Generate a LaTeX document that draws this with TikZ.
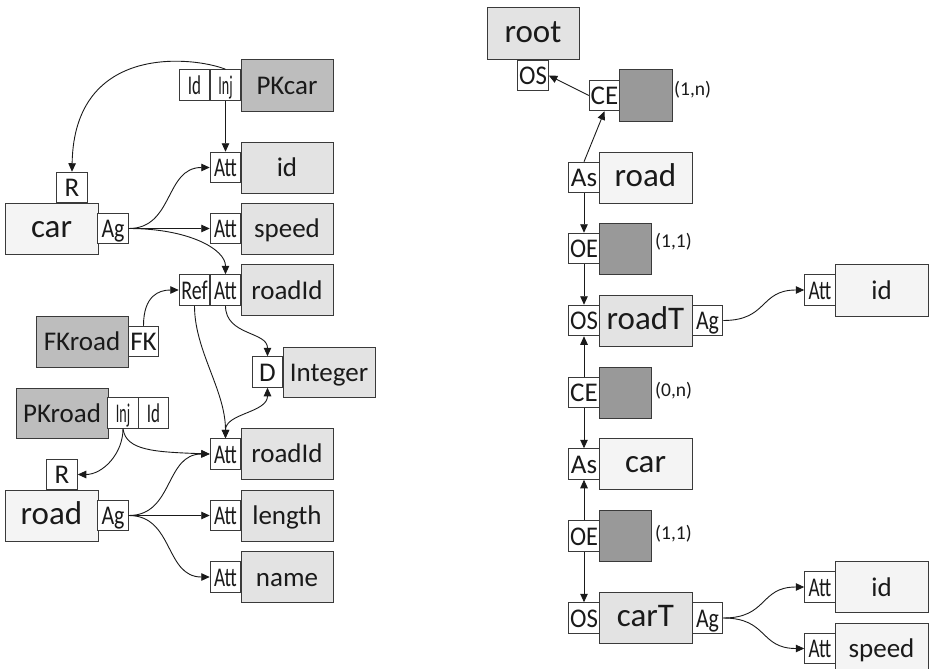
\documentclass[tikz,border=0pt]{standalone}
\usepackage{fontspec}
\setmainfont{Carlito}
\usepackage{graphicx}
\usetikzlibrary{arrows.meta}

\definecolor{edgegray}{HTML}{3A3A3A}
\definecolor{keyfill}{HTML}{BDBDBD}
\definecolor{attfill}{HTML}{E3E3E3}
\definecolor{entfill}{HTML}{F4F4F4}
\definecolor{cardfill}{HTML}{999999}
\definecolor{inkcol}{HTML}{1A1A1A}

% squeeze a label horizontally so it fits its small box
\newcommand\sqz[2]{\scalebox{#1}[1]{#2}}

\tikzset{
  base/.style={draw=edgegray, line width=1pt, inner sep=0pt, text=inkcol},
  tag/.style={base, fill=white, minimum width=30.5pt, minimum height=30.5pt,
              font=\fontsize{27}{29}\selectfont, text height=18pt, text depth=0pt},
  ent/.style={base, fill=entfill, minimum width=93pt, minimum height=51pt,
              font=\fontsize{33}{35}\selectfont, text height=24.5pt, text depth=7.5pt},
  att/.style={base, fill=attfill, minimum width=92pt, minimum height=51pt,
              font=\fontsize{27}{29}\selectfont, text height=24pt, text depth=6pt},
  key/.style={att, fill=keyfill},
  card/.style={base, fill=cardfill, minimum width=52.5pt, minimum height=51pt},
  cardlbl/.style={anchor=west, inner sep=0pt, text=inkcol,
                  font=\fontsize{19.5}{21}\selectfont},
  arr/.style={-{Triangle[length=8.5pt,width=7.5pt]}, line width=0.9pt, draw=inkcol},
  biarr/.style={{Triangle[length=8.5pt,width=7.5pt]}-{Triangle[length=8.5pt,width=7.5pt]},
                line width=0.9pt, draw=inkcol}
}

\begin{document}
\begin{tikzpicture}[x=1pt, y=-1pt]
\useasboundingbox (0,0) rectangle (929,669);

% ---------- relational schema (left) ----------
\node[key] (pkcar) at (287,85.5) {PKcar};
\node[tag] (inj1) at (225.5,85) {\sqz{0.52}{Inj}};
\node[tag] (id1) at (194.5,85) {\sqz{0.63}{Id}};

\node[att] (idA) at (287,167.5) {id};
\node[tag] (attId) at (225.5,167.5) {\sqz{0.71}{Att}};
\node[att] (speedA) at (287,228.5) {speed};
\node[tag] (attSpeed) at (225.5,228.5) {\sqz{0.71}{Att}};
\node[att] (roadIdA) at (287,290) {roadId};
\node[tag] (attRoadId) at (225.5,290) {\sqz{0.71}{Att}};
\node[tag] (ref) at (194.5,290) {\sqz{0.74}{Ref}};

\node[ent] (car) at (51.5,228.5) {car};
\node[tag] (agCar) at (113,228.5) {\sqz{0.81}{Ag}};
\node[tag] (rCar) at (72,187.5) {R};

\node[key] (fkroad) at (82,341.5) {FKroad};
\node[tag] (fk) at (143.5,341.5) {FK};

\node[att, minimum height=50pt] (integer) at (329,372) {Integer};
\node[tag] (dom) at (267.5,372) {D};

\node[key, minimum height=50pt] (pkroad) at (62,413) {PKroad};
\node[tag] (inj2) at (123,413) {\sqz{0.52}{Inj}};
\node[tag] (id2) at (153.5,413) {\sqz{0.63}{Id}};

\node[tag] (rRoad) at (62,474.5) {R};
\node[ent] (road) at (51.5,515.5) {road};
\node[tag] (agRoad) at (113,515.5) {\sqz{0.81}{Ag}};

\node[att] (roadIdB) at (287,453.5) {roadId};
\node[tag] (attRoadIdB) at (225.5,454) {\sqz{0.71}{Att}};
\node[att] (lengthA) at (287,515.5) {length};
\node[tag] (attLength) at (225.5,515.5) {\sqz{0.71}{Att}};
\node[att] (nameA) at (287,577) {name};
\node[tag] (attName) at (225.5,577) {\sqz{0.71}{Att}};

% ---------- document schema (right) ----------
\node[ent, fill=attfill, minimum width=92pt, minimum height=52pt] (root) at (533,34) {root};
\node[tag] (osRoot) at (533,75.5) {\sqz{0.92}{OS}};

\node[tag] (ce1) at (604.5,95.5) {CE};
\node[card] (c1) at (646,95.5) {};
\node[cardlbl] at (674,90) {(1,n)};

\node[ent] (roadR) at (645.5,177.5) {road};
\node[tag] (as1) at (584,177.5) {As};

\node[tag] (oe1) at (584,248.5) {\sqz{0.9}{OE}};
\node[card] (c2) at (625.5,248.5) {};
\node[cardlbl] at (655,242) {(1,1)};

\node[ent, fill=attfill] (roadT) at (645.5,320.5) {roadT};
\node[tag] (os2) at (584,320.5) {\sqz{0.92}{OS}};
\node[tag] (agRT) at (707.5,320.5) {\sqz{0.81}{Ag}};

\node[att, fill=entfill, minimum width=93pt, minimum height=52pt] (idR1) at (881.5,290) {id};
\node[tag] (attR1) at (820,290) {\sqz{0.71}{Att}};

\node[tag] (ce2) at (584,392.5) {CE};
\node[card] (c3) at (625.5,392.5) {};
\node[cardlbl] at (655,391) {(0,n)};

\node[ent] (carR) at (645.5,464) {car};
\node[tag] (as2) at (584,464) {As};

\node[tag] (oe2) at (584,536) {\sqz{0.9}{OE}};
\node[card] (c4) at (625.5,536) {};
\node[cardlbl] at (655,534) {(1,1)};

\node[ent, fill=attfill] (carT) at (645.5,618) {carT};
\node[tag] (os3) at (584,618) {\sqz{0.92}{OS}};
\node[tag] (agCT) at (707.5,618) {\sqz{0.81}{Ag}};

\node[att, fill=entfill, minimum width=93pt] (idR2) at (881.5,587) {id};
\node[tag] (attR2) at (820,587) {\sqz{0.71}{Att}};
\node[att, fill=entfill, minimum width=93pt] (speedR) at (881.5,648.5) {speed};
\node[tag] (attR3) at (820,648.5) {\sqz{0.71}{Att}};

% ---------- connectors, left ----------
\draw[arr] (inj1.north) .. controls (195,57) and (74,42) .. (rCar.north);
\draw[arr] (inj1.south) -- (attId.north);
\draw[arr] (agCar.east) .. controls +(45,0) and +(-45,0) .. (attId.west);
\draw[arr] (agCar.east) -- (attSpeed.west);
\draw[arr] (agCar.east) .. controls +(60,0) and +(0,-25) .. (attRoadId.north);
\draw[arr] (fk.north) .. controls +(0,-30) and +(-20,0) .. (ref.west);
\draw[arr] (ref.south) .. controls +(0,45) and +(0,-48) .. (attRoadIdB.north);
\draw[arr] (attRoadId.south) .. controls +(0,30) and +(0,-25) .. (dom.north);
\draw[biarr] (attRoadIdB.north) .. controls +(0,-25) and +(0,25) .. (dom.south);
\draw[arr] (inj2.south) .. controls +(0,25) and +(25,0) .. (rRoad.east);
\draw[arr] (inj2.south) .. controls +(3,22) and +(-55,-2) .. (attRoadIdB.west);
\draw[arr] (agRoad.east) .. controls +(45,0) and +(-45,0) .. (attRoadIdB.west);
\draw[arr] (agRoad.east) -- (attLength.west);
\draw[arr] (agRoad.east) .. controls +(45,0) and +(-45,0) .. (attName.west);

% ---------- connectors, right ----------
\draw[arr] (ce1.west) -- (osRoot.east);
\draw[arr] (as1.north) -- (ce1.south);
\draw[arr] (as1.south) -- (oe1.north);
\draw[arr] (oe1.south) -- (os2.north);
\draw[arr] (agRT.east) .. controls +(45,0) and +(-45,0) .. (attR1.west);
\draw[arr] (ce2.north) -- (os2.south);
\draw[arr] (ce2.south) -- (as2.north);
\draw[arr] (oe2.north) -- (as2.south);
\draw[arr] (oe2.south) -- (os3.north);
\draw[arr] (agCT.east) .. controls +(45,0) and +(-45,0) .. (attR2.west);
\draw[arr] (agCT.east) .. controls +(45,0) and +(-45,0) .. (attR3.west);
\end{tikzpicture}
\end{document}
